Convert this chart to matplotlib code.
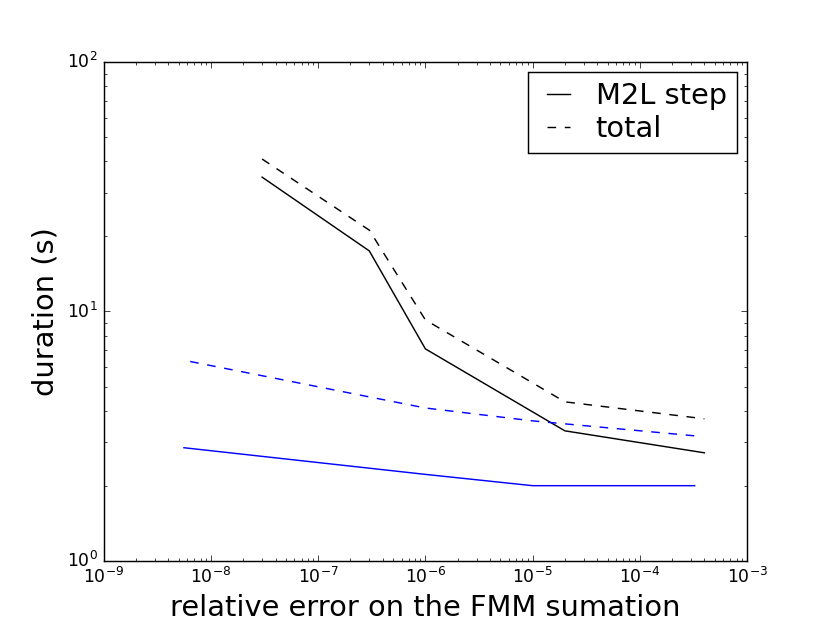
import matplotlib
matplotlib.use("Agg")
import matplotlib.pyplot as plt

plt.style.use("classic")
plt.rcParams["font.family"] = ["DejaVu Sans"]
plt.rcParams["mathtext.fontset"] = "dejavusans"
plt.rcParams["mathtext.default"] = "regular"

# black: first method
err_a = [3e-8, 3e-7, 1e-6, 2e-5, 4e-4]
m2l_a = [34.6, 17.5, 7.08, 3.32, 2.71]
total_a = [40.9, 21.2, 9.25, 4.34, 3.71]

# blue: second method
err_b_m2l = [5.6e-9, 1e-6, 1e-5, 3.25e-4]
m2l_b = [2.84, 2.22, 2.0, 2.0]
err_b_tot = [6.4e-9, 1e-6, 1e-5, 3.25e-4]
total_b = [6.3, 4.1, 3.64, 3.17]

fig = plt.figure(figsize=(8, 6.005), dpi=103.75)
ax = fig.add_subplot(111)
ax.loglog(err_a, m2l_a, "k-", label="M2L step")
ax.loglog(err_a, total_a, "k--", label="total")
ax.loglog(err_b_m2l, m2l_b, "b-")
ax.loglog(err_b_tot, total_b, "b--")

ax.set_xlim(1e-9, 1e-3)
ax.set_ylim(1, 100)
ax.set_xlabel("relative error on the FMM sumation", fontsize=20)
ax.set_ylabel("duration (s)", fontsize=20)
ax.legend(loc="upper right", fontsize=20, handlelength=1.4, handletextpad=0.6,
          labelspacing=0.15, borderaxespad=0.35, borderpad=0.35)

fig.savefig("out.png", dpi=103.75)
